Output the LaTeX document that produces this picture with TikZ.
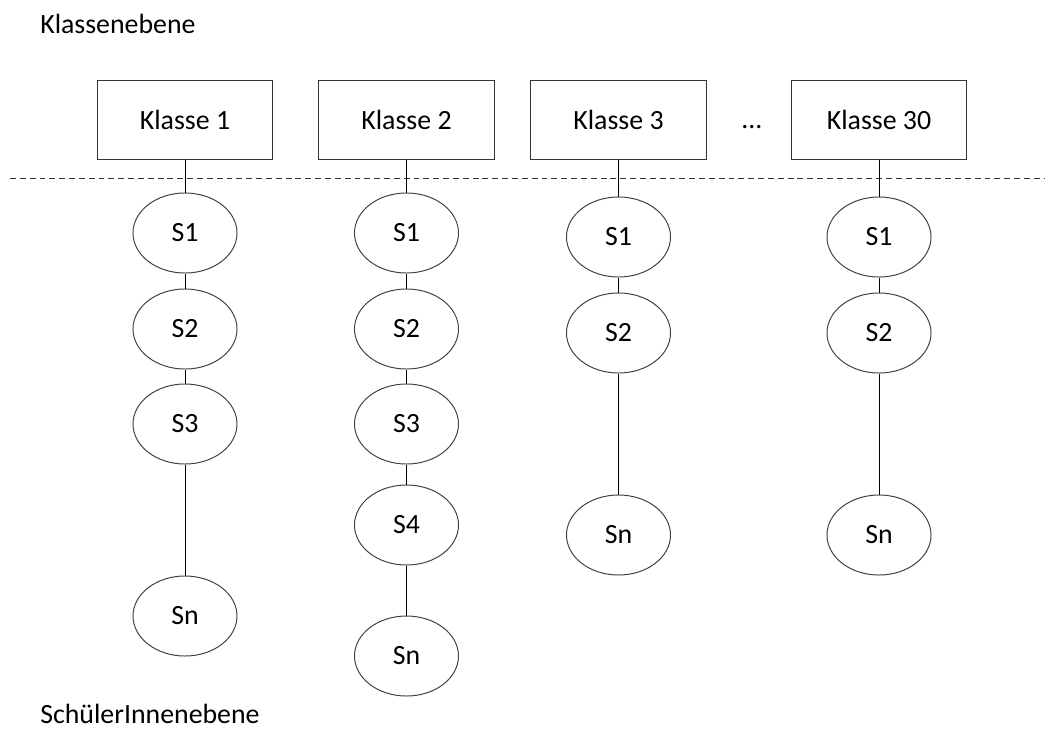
\documentclass[tikz,border=0pt]{standalone}
\usepackage{fontspec}
\setmainfont{Carlito}
\usetikzlibrary{shapes.geometric}

\begin{document}
\begin{tikzpicture}[x=0.025cm, y=-0.025cm,
    klasse/.style={draw=black!80, line width=0.7pt, minimum width=4.375cm, minimum height=1.975cm},
    schueler/.style={ellipse, draw=black!75, line width=0.7pt, minimum width=2.6cm, minimum height=2cm, inner sep=0pt},
    ebene/.style={anchor=base west, inner sep=0pt, text depth=0pt},
    verbindung/.style={black, line width=0.7pt},
    font=\fontsize{19.8}{23}\selectfont]
    \useasboundingbox (0,0) rectangle (1054,731);

    % Ebenen
    \node[ebene] (ebeneoben) at (40,33) {Klassenebene};
    \node[ebene] (ebeneunten) at (40,723) {SchülerInnenebene};

    % Trennlinie
    \coordinate (trennlinks) at (10,178);
    \coordinate (trennrechts) at (1044,178);
    \draw[black!80, line width=0.7pt, dash pattern=on 4.2pt off 2.8pt] (trennlinks) -- (trennrechts);

    % Klassen
    \node[klasse] (k1) at (185,119.5) {Klasse 1};
    \node[klasse] (k2) at (406.5,119.5) {Klasse 2};
    \node[klasse] (k3) at (618.5,119.5) {Klasse 3};
    \node[anchor=base] (punkte) at (752,128) {...};
    \node[klasse] (k30) at (879,119.5) {Klasse 30};

    % Schueler Klasse 1
    \node[schueler] (k1s1) at (185,233) {S1};
    \node[schueler] (k1s2) at (185,329) {S2};
    \node[schueler] (k1s3) at (185,424) {S3};
    \node[schueler] (k1sn) at (185,616) {Sn};

    % Schueler Klasse 2
    \node[schueler] (k2s1) at (406.5,233) {S1};
    \node[schueler] (k2s2) at (406.5,329) {S2};
    \node[schueler] (k2s3) at (406.5,424) {S3};
    \node[schueler] (k2s4) at (406.5,525) {S4};
    \node[schueler] (k2sn) at (406.5,656) {Sn};

    % Schueler Klasse 3
    \node[schueler] (k3s1) at (618.5,237) {S1};
    \node[schueler] (k3s2) at (618.5,333) {S2};
    \node[schueler] (k3sn) at (618.5,535) {Sn};

    % Schueler Klasse 30
    \node[schueler] (k30s1) at (879,237) {S1};
    \node[schueler] (k30s2) at (879,333) {S2};
    \node[schueler] (k30sn) at (879,535) {Sn};

    % Verbindungen
    \draw[verbindung] (k1) -- (k1s1) -- (k1s2) -- (k1s3) -- (k1sn);
    \draw[verbindung] (k2) -- (k2s1) -- (k2s2) -- (k2s3) -- (k2s4) -- (k2sn);
    \draw[verbindung] (k3) -- (k3s1) -- (k3s2) -- (k3sn);
    \draw[verbindung] (k30) -- (k30s1) -- (k30s2) -- (k30sn);
\end{tikzpicture}
\end{document}
